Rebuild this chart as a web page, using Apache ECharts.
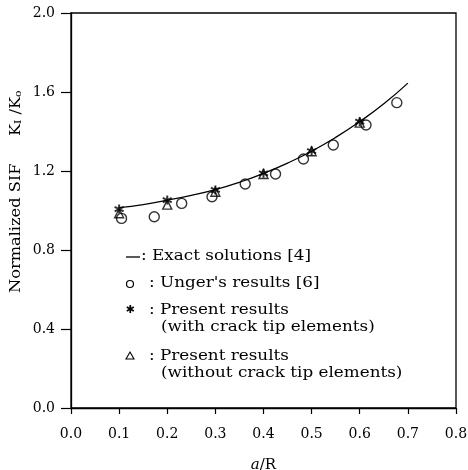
<!DOCTYPE html>
<html>
<head>
<meta charset="utf-8">
<script src="https://cdn.jsdelivr.net/npm/echarts@6/dist/echarts.min.js"></script>
<style>
  html, body { margin: 0; padding: 0; background: #fff; }
  #main { width: 468px; height: 470px; }
</style>
</head>
<body>
<div id="main"></div>
<script>
// exact solution curve
var exactX = [0.1, 0.15, 0.2, 0.25, 0.3, 0.35, 0.4, 0.45, 0.5, 0.55, 0.6, 0.65, 0.7];
var exactY = [1.015, 1.03, 1.052, 1.077, 1.106, 1.143, 1.188, 1.24, 1.30, 1.37, 1.45, 1.54, 1.645];
// Unger's results
var ungerX = [0.105, 0.173, 0.23, 0.293, 0.362, 0.425, 0.483, 0.545, 0.613, 0.677];
var ungerY = [0.96, 0.968, 1.036, 1.07, 1.134, 1.185, 1.261, 1.332, 1.433, 1.546];
// present results
var presentX = [0.1, 0.2, 0.3, 0.4, 0.5, 0.6];
var withTipY = [1.007, 1.053, 1.104, 1.188, 1.301, 1.45];
var withoutTipY = [0.986, 1.03, 1.095, 1.185, 1.30, 1.445];

var legendLines = [
  ': Exact solutions [4]',
  ': Unger\'s results [6]',
  ': Present results',
  '(with crack tip elements)',
  ': Present results',
  '(without crack tip elements)'
];

function pairs(xs, ys) {
  return xs.map(function (x, i) { return [x, ys[i]]; });
}

var FONT = 'DejaVu Serif';
var starPath = 'path://M10 0 L10 20 M1.34 5 L18.66 15 M1.34 15 L18.66 5';

var chart = echarts.init(document.getElementById('main'));

var txt = function (x, y, s) {
  return {
    type: 'text', x: x, y: y, scaleX: 1.12,
    style: { text: s, fontFamily: FONT, fontSize: 15, fill: '#000', verticalAlign: 'middle' }
  };
};

chart.setOption({
  backgroundColor: '#fff',
  animation: false,
  grid: {
    left: 71, right: 12, top: 13, bottom: 62,
    outerBoundsMode: 'none', containLabel: false,
    show: true, borderColor: '#000', borderWidth: 1.3
  },
  xAxis: {
    type: 'value', min: 0, max: 0.8, interval: 0.1,
    name: '{i|a}/R', nameLocation: 'middle', nameGap: 50,
    nameTextStyle: {
      fontFamily: FONT, fontSize: 15, color: '#000',
      rich: { i: { fontFamily: FONT, fontStyle: 'italic', fontSize: 15, color: '#000' } }
    },
    axisLine: { lineStyle: { color: '#000', width: 1.3 } },
    axisTick: { length: 6, lineStyle: { color: '#000', width: 1.2 } },
    axisLabel: { margin: 19, fontFamily: FONT, fontSize: 14, color: '#000',
      formatter: function (v) { return v.toFixed(1); } },
    splitLine: { show: false }
  },
  yAxis: {
    type: 'value', min: 0, max: 2, interval: 0.4,
    axisLine: { lineStyle: { color: '#000', width: 1.3 } },
    axisTick: { length: 10, lineStyle: { color: '#000', width: 1.2 } },
    axisLabel: { margin: 16, fontFamily: FONT, fontSize: 14, color: '#000',
      formatter: function (v) { return v.toFixed(1); } },
    splitLine: { show: false }
  },
  series: [
    {
      name: 'Exact solutions [4]', type: 'line', smooth: true, showSymbol: false,
      data: pairs(exactX, exactY),
      lineStyle: { color: '#000', width: 1.3 }
    },
    {
      name: 'Unger\'s results [6]', type: 'scatter', symbol: 'circle', symbolSize: 10,
      data: pairs(ungerX, ungerY),
      itemStyle: { color: '#fff', borderColor: '#000', borderWidth: 1.4 }
    },
    {
      name: 'without crack tip elements', type: 'scatter', symbol: 'triangle', symbolSize: 9,
      data: pairs(presentX, withoutTipY),
      itemStyle: { color: 'transparent', borderColor: '#000', borderWidth: 1.4 }
    },
    {
      name: 'with crack tip elements', type: 'scatter', symbol: starPath, symbolSize: 9,
      data: pairs(presentX, withTipY),
      itemStyle: { color: 'transparent', borderColor: '#000', borderWidth: 2 }
    }
  ],
  graphic: [
    // y axis title, two pieces, reading upward
    {
      type: 'text', x: 16, y: 293, rotation: Math.PI / 2, scaleX: 1.08,
      style: { text: 'Normalized SIF', fontFamily: FONT, fontSize: 15, fill: '#000', verticalAlign: 'middle' }
    },
    {
      type: 'text', x: 16, y: 136, rotation: Math.PI / 2, scaleX: 1.08,
      style: {
        text: 'K{s|I} /K{s|o}',
        fontFamily: FONT, fontSize: 15, fill: '#000', verticalAlign: 'middle',
        rich: { s: { fontFamily: FONT, fontSize: 10, verticalAlign: 'bottom', fill: '#000' } }
      }
    },
    // legend
    { type: 'line', shape: { x1: 126, y1: 257, x2: 140, y2: 257 }, style: { stroke: '#000', lineWidth: 1.3 } },
    txt(141, 256, legendLines[0]),
    { type: 'circle', shape: { cx: 130, cy: 284, r: 3.5 }, style: { fill: '#fff', stroke: '#000', lineWidth: 1.2 } },
    txt(149, 283, legendLines[1]),
    { type: 'text', x: 130, y: 310, style: { text: '✱', fontFamily: 'DejaVu Sans', fontWeight: 'bold', fontSize: 11, fill: '#000', align: 'center', verticalAlign: 'middle' } },
    txt(149, 310, legendLines[2]),
    txt(161, 327, legendLines[3]),
    { type: 'polygon', shape: { points: [[130, 352], [134, 359], [126, 359]] }, style: { fill: 'none', stroke: '#000', lineWidth: 1.1 } },
    txt(149, 356, legendLines[4]),
    txt(161, 373, legendLines[5])
  ]
});
</script>
</body>
</html>
